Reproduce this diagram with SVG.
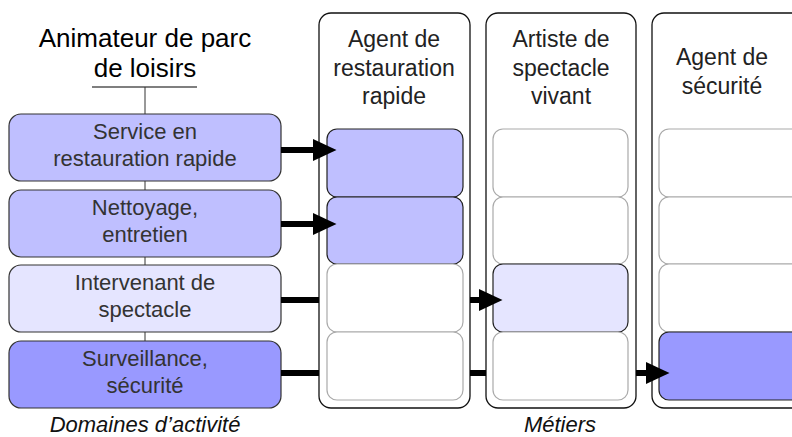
<svg xmlns="http://www.w3.org/2000/svg" width="792" height="437" viewBox="0 0 792 437">
<style>
text{font-family:"Liberation Sans",Arial,sans-serif;text-anchor:middle}
.t{font-size:22px;fill:#333}
.h{font-size:23px;fill:#222}
.title{font-size:26px;fill:#000}
.cap{font-size:22px;font-style:italic;fill:#111}
.box{stroke:#333;stroke-width:1.2}
.col{fill:#fff;stroke:#111;stroke-width:1.3}
.empty{fill:#fff;stroke:#aaa;stroke-width:1.2}
.on{stroke:#222;stroke-width:1.2}
.c1{fill:#bfbfff}.c2{fill:#e5e5ff}.c3{fill:#9999ff}
.arr{fill:none;stroke:#000;stroke-width:6}
</style>
<defs>
<marker id="ah" markerUnits="userSpaceOnUse" markerWidth="24" markerHeight="22" viewBox="0 0 24 22" refX="0" refY="11" orient="auto">
<polygon points="0,0 23.5,11 0,22" fill="#000"/>
</marker>
</defs>
<g id="title">
<text class="title" x="145" y="47">Animateur de parc</text>
<text class="title" x="145" y="77">de loisirs</text>
<line x1="92" y1="87" x2="197" y2="87" stroke="#000" stroke-width="1.2"/>
</g>
<g id="spine">
<line x1="145" y1="87" x2="145" y2="341" stroke="#333" stroke-width="1"/>
</g>
<g id="d1">
<rect class="box c1" x="9" y="114" width="272" height="67" rx="12"/>
<text class="t" x="145" y="139">Service en</text>
<text class="t" x="145" y="166">restauration rapide</text>
</g>
<g id="d2">
<rect class="box c1" x="9" y="190" width="272" height="67" rx="12"/>
<text class="t" x="145" y="215">Nettoyage,</text>
<text class="t" x="145" y="242">entretien</text>
</g>
<g id="d3">
<rect class="box c2" x="9" y="265" width="272" height="67" rx="12"/>
<text class="t" x="145" y="290">Intervenant de</text>
<text class="t" x="145" y="317">spectacle</text>
</g>
<g id="d4">
<rect class="box c3" x="9" y="341" width="272" height="67" rx="12"/>
<text class="t" x="145" y="366">Surveillance,</text>
<text class="t" x="145" y="393">sécurité</text>
</g>
<g id="m1">
<rect class="col" x="319" y="13" width="151" height="395" rx="12"/>
<text class="h" x="394" y="47">Agent de</text>
<text class="h" x="394" y="76">restauration</text>
<text class="h" x="394" y="104">rapide</text>
<rect class="on c1" x="327" y="129" width="136" height="68" rx="10"/>
<rect class="on c1" x="327" y="197" width="136" height="67" rx="10"/>
<rect class="empty" x="327" y="264" width="136" height="68" rx="10"/>
<rect class="empty" x="327" y="332" width="136" height="68" rx="10"/>
</g>
<g id="m2">
<rect class="col" x="486" y="13" width="150" height="395" rx="12"/>
<text class="h" x="561" y="47">Artiste de</text>
<text class="h" x="561" y="76">spectacle</text>
<text class="h" x="561" y="104">vivant</text>
<rect class="empty" x="493" y="129" width="135" height="68" rx="10"/>
<rect class="empty" x="493" y="197" width="135" height="67" rx="10"/>
<rect class="on c2" x="493" y="264" width="135" height="68" rx="10"/>
<rect class="empty" x="493" y="332" width="135" height="68" rx="10"/>
</g>
<g id="m3">
<rect class="col" x="652" y="13" width="160" height="395" rx="12"/>
<text class="h" x="722" y="65">Agent de</text>
<text class="h" x="722" y="94">sécurité</text>
<rect class="empty" x="659" y="129" width="145" height="68" rx="10"/>
<rect class="empty" x="659" y="197" width="145" height="67" rx="10"/>
<rect class="empty" x="659" y="264" width="145" height="68" rx="10"/>
<rect class="on c3" x="659" y="332" width="145" height="68" rx="10"/>
</g>
<g id="connectors">
<path class="arr" d="M281,150 H313" marker-end="url(#ah)"/>
<path class="arr" d="M281,224 H313" marker-end="url(#ah)"/>
<path class="arr" d="M281,300 H319 M470,300 H479" marker-end="url(#ah)"/>
<path class="arr" d="M281,373 H319 M470,373 H486 M636,373 H646" marker-end="url(#ah)"/>
</g>
<g id="captions">
<text class="cap" x="145" y="432">Domaines d’activité</text>
<text class="cap" x="560" y="432">Métiers</text>
</g>
</svg>
